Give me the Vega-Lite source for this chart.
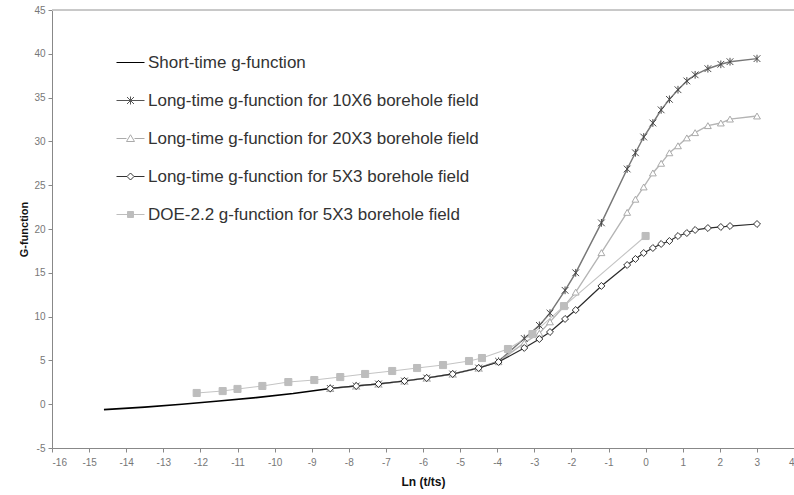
{
  "$schema": "https://vega.github.io/schema/vega-lite/v6.json",
  "width": 742,
  "height": 438,
  "autosize": {"type": "none"},
  "padding": {"left": 52, "top": 10, "right": 0, "bottom": 47},
  "background": "white",
  "config": {
    "view": {"stroke": null},
    "font": "Liberation Sans",
    "axis": {
      "grid": false,
      "labelColor": "#777",
      "labelFontSize": 10,
      "labelOverlap": false,
      "labelExpr": "'' + datum.value",
      "domainColor": "#888",
      "tickColor": "#888",
      "tickSize": 4,
      "titleColor": "#111",
      "titleFontWeight": "bold"
    }
  },
  "data": {
    "values": [
      {"series": "Short-time g-function", "x": -14.6, "y": -0.62},
      {"series": "Short-time g-function", "x": -13.5, "y": -0.33},
      {"series": "Short-time g-function", "x": -12.5, "y": 0.0},
      {"series": "Short-time g-function", "x": -11.5, "y": 0.36},
      {"series": "Short-time g-function", "x": -10.5, "y": 0.75},
      {"series": "Short-time g-function", "x": -9.5, "y": 1.22},
      {"series": "Short-time g-function", "x": -8.5, "y": 1.8},

      {"series": "Long-time g-function for 10X6 borehole field", "x": -8.5, "y": 1.8},
      {"series": "Long-time g-function for 10X6 borehole field", "x": -7.8, "y": 2.08},
      {"series": "Long-time g-function for 10X6 borehole field", "x": -7.2, "y": 2.31},
      {"series": "Long-time g-function for 10X6 borehole field", "x": -6.5, "y": 2.65},
      {"series": "Long-time g-function for 10X6 borehole field", "x": -5.9, "y": 2.99},
      {"series": "Long-time g-function for 10X6 borehole field", "x": -5.2, "y": 3.45},
      {"series": "Long-time g-function for 10X6 borehole field", "x": -4.5, "y": 4.13},
      {"series": "Long-time g-function for 10X6 borehole field", "x": -3.963, "y": 4.9},
      {"series": "Long-time g-function for 10X6 borehole field", "x": -3.27, "y": 7.5},
      {"series": "Long-time g-function for 10X6 borehole field", "x": -2.864, "y": 9.0},
      {"series": "Long-time g-function for 10X6 borehole field", "x": -2.577, "y": 10.4},
      {"series": "Long-time g-function for 10X6 borehole field", "x": -2.171, "y": 13.0},
      {"series": "Long-time g-function for 10X6 borehole field", "x": -1.884, "y": 15.0},
      {"series": "Long-time g-function for 10X6 borehole field", "x": -1.191, "y": 20.7},
      {"series": "Long-time g-function for 10X6 borehole field", "x": -0.497, "y": 26.85},
      {"series": "Long-time g-function for 10X6 borehole field", "x": -0.274, "y": 28.7},
      {"series": "Long-time g-function for 10X6 borehole field", "x": -0.051, "y": 30.5},
      {"series": "Long-time g-function for 10X6 borehole field", "x": 0.196, "y": 32.1},
      {"series": "Long-time g-function for 10X6 borehole field", "x": 0.419, "y": 33.6},
      {"series": "Long-time g-function for 10X6 borehole field", "x": 0.642, "y": 34.8},
      {"series": "Long-time g-function for 10X6 borehole field", "x": 0.873, "y": 35.9},
      {"series": "Long-time g-function for 10X6 borehole field", "x": 1.112, "y": 36.9},
      {"series": "Long-time g-function for 10X6 borehole field", "x": 1.335, "y": 37.6},
      {"series": "Long-time g-function for 10X6 borehole field", "x": 1.679, "y": 38.3},
      {"series": "Long-time g-function for 10X6 borehole field", "x": 2.028, "y": 38.8},
      {"series": "Long-time g-function for 10X6 borehole field", "x": 2.275, "y": 39.1},
      {"series": "Long-time g-function for 10X6 borehole field", "x": 3.003, "y": 39.45},

      {"series": "Long-time g-function for 20X3 borehole field", "x": -8.5, "y": 1.8},
      {"series": "Long-time g-function for 20X3 borehole field", "x": -7.8, "y": 2.08},
      {"series": "Long-time g-function for 20X3 borehole field", "x": -7.2, "y": 2.31},
      {"series": "Long-time g-function for 20X3 borehole field", "x": -6.5, "y": 2.65},
      {"series": "Long-time g-function for 20X3 borehole field", "x": -5.9, "y": 2.99},
      {"series": "Long-time g-function for 20X3 borehole field", "x": -5.2, "y": 3.45},
      {"series": "Long-time g-function for 20X3 borehole field", "x": -4.5, "y": 4.13},
      {"series": "Long-time g-function for 20X3 borehole field", "x": -3.963, "y": 4.85},
      {"series": "Long-time g-function for 20X3 borehole field", "x": -3.27, "y": 7.0},
      {"series": "Long-time g-function for 20X3 borehole field", "x": -2.864, "y": 8.1},
      {"series": "Long-time g-function for 20X3 borehole field", "x": -2.577, "y": 9.4},
      {"series": "Long-time g-function for 20X3 borehole field", "x": -2.171, "y": 11.3},
      {"series": "Long-time g-function for 20X3 borehole field", "x": -1.884, "y": 12.8},
      {"series": "Long-time g-function for 20X3 borehole field", "x": -1.191, "y": 17.3},
      {"series": "Long-time g-function for 20X3 borehole field", "x": -0.497, "y": 21.9},
      {"series": "Long-time g-function for 20X3 borehole field", "x": -0.274, "y": 23.4},
      {"series": "Long-time g-function for 20X3 borehole field", "x": -0.051, "y": 24.8},
      {"series": "Long-time g-function for 20X3 borehole field", "x": 0.196, "y": 26.4},
      {"series": "Long-time g-function for 20X3 borehole field", "x": 0.419, "y": 27.5},
      {"series": "Long-time g-function for 20X3 borehole field", "x": 0.642, "y": 28.7},
      {"series": "Long-time g-function for 20X3 borehole field", "x": 0.873, "y": 29.5},
      {"series": "Long-time g-function for 20X3 borehole field", "x": 1.112, "y": 30.4},
      {"series": "Long-time g-function for 20X3 borehole field", "x": 1.335, "y": 31.0},
      {"series": "Long-time g-function for 20X3 borehole field", "x": 1.679, "y": 31.8},
      {"series": "Long-time g-function for 20X3 borehole field", "x": 2.028, "y": 32.1},
      {"series": "Long-time g-function for 20X3 borehole field", "x": 2.275, "y": 32.55},
      {"series": "Long-time g-function for 20X3 borehole field", "x": 3.003, "y": 32.9},

      {"series": "Long-time g-function for 5X3 borehole field", "x": -8.5, "y": 1.8},
      {"series": "Long-time g-function for 5X3 borehole field", "x": -7.8, "y": 2.08},
      {"series": "Long-time g-function for 5X3 borehole field", "x": -7.2, "y": 2.31},
      {"series": "Long-time g-function for 5X3 borehole field", "x": -6.5, "y": 2.65},
      {"series": "Long-time g-function for 5X3 borehole field", "x": -5.9, "y": 2.99},
      {"series": "Long-time g-function for 5X3 borehole field", "x": -5.2, "y": 3.45},
      {"series": "Long-time g-function for 5X3 borehole field", "x": -4.5, "y": 4.13},
      {"series": "Long-time g-function for 5X3 borehole field", "x": -3.963, "y": 4.82},
      {"series": "Long-time g-function for 5X3 borehole field", "x": -3.27, "y": 6.42},
      {"series": "Long-time g-function for 5X3 borehole field", "x": -2.864, "y": 7.44},
      {"series": "Long-time g-function for 5X3 borehole field", "x": -2.577, "y": 8.24},
      {"series": "Long-time g-function for 5X3 borehole field", "x": -2.171, "y": 9.73},
      {"series": "Long-time g-function for 5X3 borehole field", "x": -1.884, "y": 10.75},
      {"series": "Long-time g-function for 5X3 borehole field", "x": -1.191, "y": 13.5},
      {"series": "Long-time g-function for 5X3 borehole field", "x": -0.497, "y": 15.89},
      {"series": "Long-time g-function for 5X3 borehole field", "x": -0.274, "y": 16.58},
      {"series": "Long-time g-function for 5X3 borehole field", "x": -0.051, "y": 17.26},
      {"series": "Long-time g-function for 5X3 borehole field", "x": 0.196, "y": 17.83},
      {"series": "Long-time g-function for 5X3 borehole field", "x": 0.419, "y": 18.29},
      {"series": "Long-time g-function for 5X3 borehole field", "x": 0.642, "y": 18.63},
      {"series": "Long-time g-function for 5X3 borehole field", "x": 0.873, "y": 19.2},
      {"series": "Long-time g-function for 5X3 borehole field", "x": 1.112, "y": 19.54},
      {"series": "Long-time g-function for 5X3 borehole field", "x": 1.335, "y": 19.89},
      {"series": "Long-time g-function for 5X3 borehole field", "x": 1.679, "y": 20.11},
      {"series": "Long-time g-function for 5X3 borehole field", "x": 2.028, "y": 20.23},
      {"series": "Long-time g-function for 5X3 borehole field", "x": 2.275, "y": 20.34},
      {"series": "Long-time g-function for 5X3 borehole field", "x": 3.003, "y": 20.57},

      {"series": "DOE-2.2 g-function for 5X3 borehole field", "x": -12.1, "y": 1.28},
      {"series": "DOE-2.2 g-function for 5X3 borehole field", "x": -11.4, "y": 1.5},
      {"series": "DOE-2.2 g-function for 5X3 borehole field", "x": -11.0, "y": 1.74},
      {"series": "DOE-2.2 g-function for 5X3 borehole field", "x": -10.33, "y": 2.08},
      {"series": "DOE-2.2 g-function for 5X3 borehole field", "x": -9.63, "y": 2.53},
      {"series": "DOE-2.2 g-function for 5X3 borehole field", "x": -8.93, "y": 2.76},
      {"series": "DOE-2.2 g-function for 5X3 borehole field", "x": -8.23, "y": 3.1},
      {"series": "DOE-2.2 g-function for 5X3 borehole field", "x": -7.56, "y": 3.45},
      {"series": "DOE-2.2 g-function for 5X3 borehole field", "x": -6.83, "y": 3.79},
      {"series": "DOE-2.2 g-function for 5X3 borehole field", "x": -6.16, "y": 4.13},
      {"series": "DOE-2.2 g-function for 5X3 borehole field", "x": -5.46, "y": 4.47},
      {"series": "DOE-2.2 g-function for 5X3 borehole field", "x": -4.76, "y": 4.93},
      {"series": "DOE-2.2 g-function for 5X3 borehole field", "x": -4.41, "y": 5.27},
      {"series": "DOE-2.2 g-function for 5X3 borehole field", "x": -3.71, "y": 6.3},
      {"series": "DOE-2.2 g-function for 5X3 borehole field", "x": -3.05, "y": 8.0},
      {"series": "DOE-2.2 g-function for 5X3 borehole field", "x": -2.2, "y": 11.2},
      {"series": "DOE-2.2 g-function for 5X3 borehole field", "x": 0.0, "y": 19.2}
    ]
  },
  "layer": [
    {
      "mark": {"type": "rule", "color": "#c8c8c8", "strokeWidth": 1},
      "encoding": {"y": {"datum": 45}}
    },
    {
      "mark": {"type": "line", "clip": true},
      "encoding": {
        "x": {
          "field": "x", "type": "quantitative",
          "scale": {"domain": [-16, 4], "nice": false, "zero": false},
          "axis": {
            "values": [-16,-15,-14,-13,-12,-11,-10,-9,-8,-7,-6,-5,-4,-3,-2,-1,0,1,2,3,4],
            "labelOverlap": false,
            "title": "Ln (t/ts)", "titleFontSize": 12, "titlePadding": 9, "labelPadding": 5
          }
        },
        "y": {
          "field": "y", "type": "quantitative",
          "scale": {"domain": [-5, 45], "nice": false, "zero": false},
          "axis": {
            "values": [-5,0,5,10,15,20,25,30,35,40,45],
            "title": "G-function", "titleFontSize": 11, "titlePadding": 4, "labelPadding": 3
          }
        },
        "detail": {"field": "series"},
        "order": {"field": "x", "type": "quantitative"},
        "stroke": {
          "field": "series", "type": "nominal", "legend": null,
          "scale": {
            "domain": ["Short-time g-function", "Long-time g-function for 10X6 borehole field", "Long-time g-function for 20X3 borehole field", "Long-time g-function for 5X3 borehole field", "DOE-2.2 g-function for 5X3 borehole field"],
            "range": ["#000000", "#777777", "#b4b4b4", "#2a2a2a", "#c4c4c4"]
          }
        },
        "strokeWidth": {
          "field": "series", "type": "nominal", "legend": null,
          "scale": {
            "domain": ["Short-time g-function", "Long-time g-function for 10X6 borehole field", "Long-time g-function for 20X3 borehole field", "Long-time g-function for 5X3 borehole field", "DOE-2.2 g-function for 5X3 borehole field"],
            "range": [1.6, 1.1, 1.1, 1.1, 1.5]
          }
        }
      }
    },
    {
      "transform": [{"filter": "datum.series != 'Short-time g-function'"}],
      "mark": {"type": "point", "filled": true, "opacity": 1, "strokeWidth": 1, "clip": true},
      "encoding": {
        "x": {
          "field": "x", "type": "quantitative",
          "axis": {
            "values": [-16,-15,-14,-13,-12,-11,-10,-9,-8,-7,-6,-5,-4,-3,-2,-1,0,1,2,3,4],
            "labelOverlap": false,
            "title": "Ln (t/ts)", "titleFontSize": 12, "titlePadding": 9, "labelPadding": 5
          }
        },
        "y": {
          "field": "y", "type": "quantitative",
          "axis": {
            "values": [-5,0,5,10,15,20,25,30,35,40,45],
            "title": "G-function", "titleFontSize": 11, "titlePadding": 4, "labelPadding": 3
          }
        },
        "shape": {
          "field": "series", "type": "nominal", "legend": null,
          "scale": {
            "domain": ["Long-time g-function for 10X6 borehole field", "Long-time g-function for 20X3 borehole field", "Long-time g-function for 5X3 borehole field", "DOE-2.2 g-function for 5X3 borehole field"],
            "range": ["M-1,-1L1,1M-1,1L1,-1M0,-1.15L0,1.15", "triangle-up", "diamond", "square"]
          }
        },
        "size": {
          "field": "series", "type": "nominal", "legend": null,
          "scale": {
            "domain": ["Long-time g-function for 10X6 borehole field", "Long-time g-function for 20X3 borehole field", "Long-time g-function for 5X3 borehole field", "DOE-2.2 g-function for 5X3 borehole field"],
            "range": [45, 50, 45, 55]
          }
        },
        "stroke": {
          "field": "series", "type": "nominal", "legend": null,
          "scale": {
            "domain": ["Long-time g-function for 10X6 borehole field", "Long-time g-function for 20X3 borehole field", "Long-time g-function for 5X3 borehole field", "DOE-2.2 g-function for 5X3 borehole field"],
            "range": ["#4a4a4a", "#aaaaaa", "#333333", "#bdbdbd"]
          }
        },
        "fill": {
          "field": "series", "type": "nominal", "legend": null,
          "scale": {
            "domain": ["Long-time g-function for 10X6 borehole field", "Long-time g-function for 20X3 borehole field", "Long-time g-function for 5X3 borehole field", "DOE-2.2 g-function for 5X3 borehole field"],
            "range": ["transparent", "#ffffff", "#ffffff", "#bdbdbd"]
          }
        }
      }
    },
    {
      "transform": [{"filter": "datum.y > 1000"}],
      "mark": {"type": "point", "filled": true, "opacity": 1, "strokeWidth": 1},
      "encoding": {
        "shape": {
          "field": "series", "type": "nominal",
          "scale": {
            "domain": ["Short-time g-function", "Long-time g-function for 10X6 borehole field", "Long-time g-function for 20X3 borehole field", "Long-time g-function for 5X3 borehole field", "DOE-2.2 g-function for 5X3 borehole field"],
            "range": [
              "M-2.8,0L2.8,0",
              "M-2.8,0L2.8,0M-0.7,-0.7L0.7,0.7M-0.7,0.7L0.7,-0.7M0,-0.8L0,0.8",
              "M-2.8,0L-0.8,0M0.8,0L2.8,0M0,-0.75L0.8,0.6L-0.8,0.6Z",
              "M-2.8,0L-0.7,0M0.7,0L2.8,0M0,-0.7L0.7,0L0,0.7L-0.7,0Z",
              "M-2.8,0L2.8,0M-0.6,-0.6L0.6,-0.6L0.6,0.6L-0.6,0.6Z"
            ]
          },
          "legend": {
            "orient": "none", "legendX": 70, "legendY": 44,
            "title": null, "padding": 0,
            "symbolSize": 100, "symbolStrokeWidth": 1,
            "labelFontSize": 17, "labelColor": "#333", "labelOffset": 9,
            "rowPadding": 20, "labelLimit": 500
          }
        },
        "stroke": {
          "field": "series", "type": "nominal",
          "scale": {
            "domain": ["Short-time g-function", "Long-time g-function for 10X6 borehole field", "Long-time g-function for 20X3 borehole field", "Long-time g-function for 5X3 borehole field", "DOE-2.2 g-function for 5X3 borehole field"],
            "range": ["#000000", "#555555", "#aaaaaa", "#333333", "#bdbdbd"]
          }
        },
        "fill": {
          "field": "series", "type": "nominal",
          "scale": {
            "domain": ["Short-time g-function", "Long-time g-function for 10X6 borehole field", "Long-time g-function for 20X3 borehole field", "Long-time g-function for 5X3 borehole field", "DOE-2.2 g-function for 5X3 borehole field"],
            "range": ["transparent", "transparent", "#ffffff", "#ffffff", "#bdbdbd"]
          }
        }
      }
    }
  ],
  "resolve": {
    "scale": {"stroke": "independent", "fill": "independent", "shape": "independent", "strokeWidth": "independent", "size": "independent"},
    "legend": {"stroke": "independent", "fill": "independent", "shape": "independent"}
  }
}
